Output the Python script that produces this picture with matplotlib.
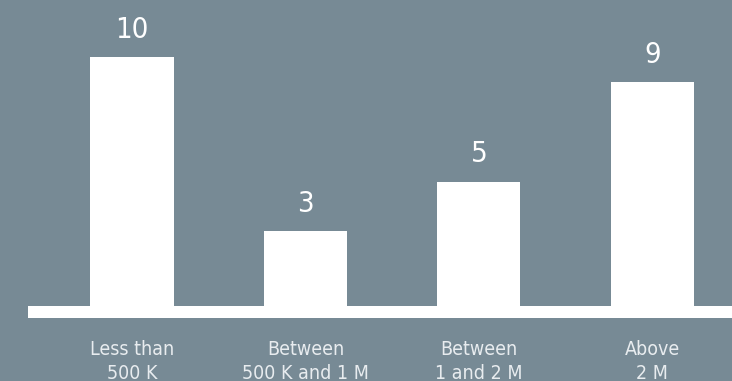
import matplotlib.pyplot as plt

# data
categories = ['Less than\n500 K', 'Between\n500 K and 1 M', 'Between\n1 and 2 M', 'Above\n2 M']
counts = [10, 3, 5, 9]

bg = '#778a95'

fig = plt.figure(figsize=(7.32, 3.81), dpi=100, facecolor=bg)
ax = fig.add_axes([28 / 732, 63 / 381, 1 - 28 / 732, 318 / 381])
ax.set_facecolor(bg)

px = 24.9  # pixels per unit
ax.set_xlim(-0.6, 3.46)
ax.set_ylim(-12 / px, 318 / px - 12 / px)

x = range(len(categories))
ax.bar(x, counts, width=0.48, color='white', zorder=3)
ax.axhspan(-12 / px, 0, color='white', lw=0, zorder=2)

for xi, v in zip(x, counts):
    ax.annotate(str(v), (xi, v), xytext=(0, 27), textcoords='offset pixels',
                ha='center', va='center', color='white', fontsize=21,
                family='DejaVu Sans', fontstretch='condensed')

for xi, lab in zip(x, categories):
    ax.annotate(lab, (xi, -12 / px), xytext=(0, -22), textcoords='offset pixels',
                ha='center', va='top', color='#e8ecef', fontsize=14,
                family='DejaVu Sans', fontstretch='condensed',
                linespacing=1.35, annotation_clip=False)

for s in ax.spines.values():
    s.set_visible(False)
ax.set_xticks([])
ax.set_yticks([])

fig.savefig('out.png', dpi=100, facecolor=bg)
